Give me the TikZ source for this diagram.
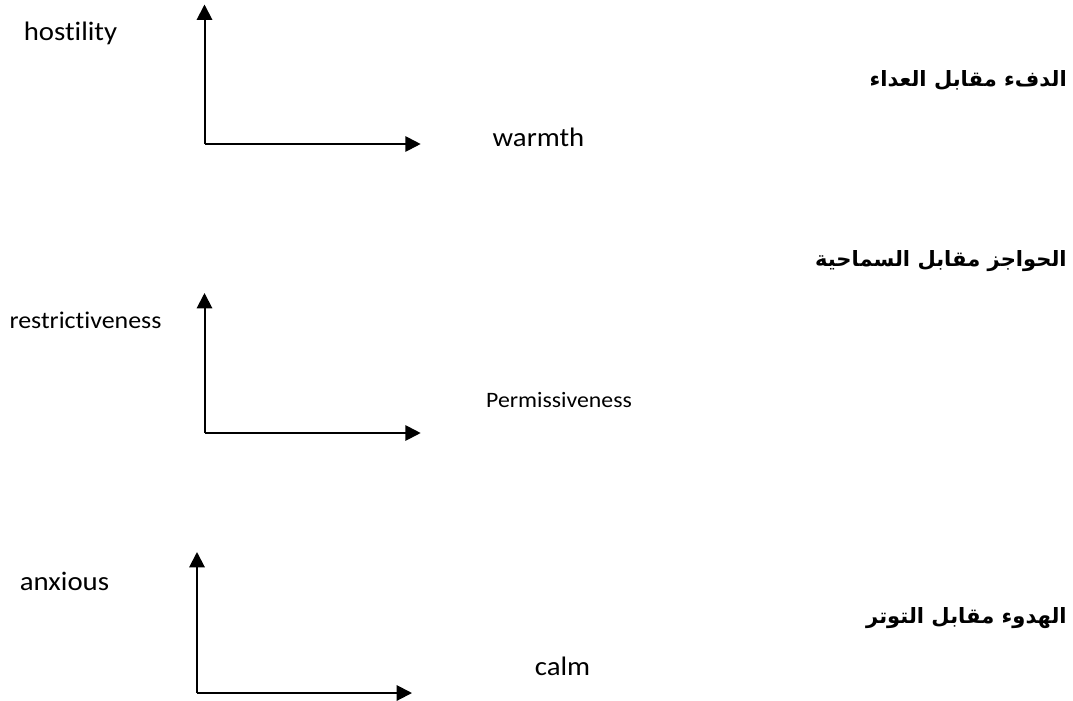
\documentclass[tikz,border=0pt]{standalone}
\usepackage{fontspec}
\setmainfont{Carlito}[FakeStretch=1.08, Ligatures=NoCommon]
\newfontfamily\arabicfont[Script=Arabic]{DejaVu Sans}
\TeXXeTstate=1
\usetikzlibrary{arrows.meta}

\tikzset{
  axis/.style={line width=1.5pt, -{Triangle[length=11.5pt,width=11.5pt]}},
  pole/.style={inner sep=0pt, font=\fontsize{20}{24}\selectfont},
  title/.style={inner sep=0pt, anchor=east, font=\arabicfont\bfseries\fontsize{15.8}{20}\selectfont}
}

\begin{document}
\begin{tikzpicture}[x=0.75pt,y=-0.75pt]
  \useasboundingbox (0,0) rectangle (1073,700);

  % warmth versus hostility
  \coordinate (o1) at (204.5,144);
  \coordinate (v1) at (204.5,4.5);
  \coordinate (h1) at (420.7,144);
  \draw[axis] (o1) -- (v1);
  \draw[axis] (o1) -- (h1);
  \node[pole] (hostility) at (70.5,33.5) {hostility};
  \node[pole] (warmth) at (538.5,137.5) {warmth};
  \node[title] (t1) at (1067,80.5) {\beginR الدفء مقابل العداء\endR};

  % restrictiveness versus permissiveness
  \coordinate (o2) at (204.5,433);
  \coordinate (v2) at (204.5,293);
  \coordinate (h2) at (420.7,433);
  \draw[axis] (o2) -- (v2);
  \draw[axis] (o2) -- (h2);
  \node[pole, font=\fontsize{18}{22}\selectfont] (restrict) at (85.5,320.5) {restrictiveness};
  \node[pole, font=\fontsize{16.5}{20}\selectfont] (permiss) at (559,400) {Permissiveness};
  \node[title] (t2) at (1067,261) {\beginR الحواجز مقابل السماحية\endR};

  % calm versus anxiety
  \coordinate (o3) at (197,693);
  \coordinate (v3) at (197,552);
  \coordinate (h3) at (412,693);
  \draw[axis] (o3) -- (v3);
  \draw[axis] (o3) -- (h3);
  \node[pole] (anxious) at (64.5,581) {anxious};
  \node[pole] (calm) at (562.5,666) {calm};
  \node[title] (t3) at (1067,618) {\beginR الهدوء مقابل التوتر\endR};
\end{tikzpicture}
\end{document}
